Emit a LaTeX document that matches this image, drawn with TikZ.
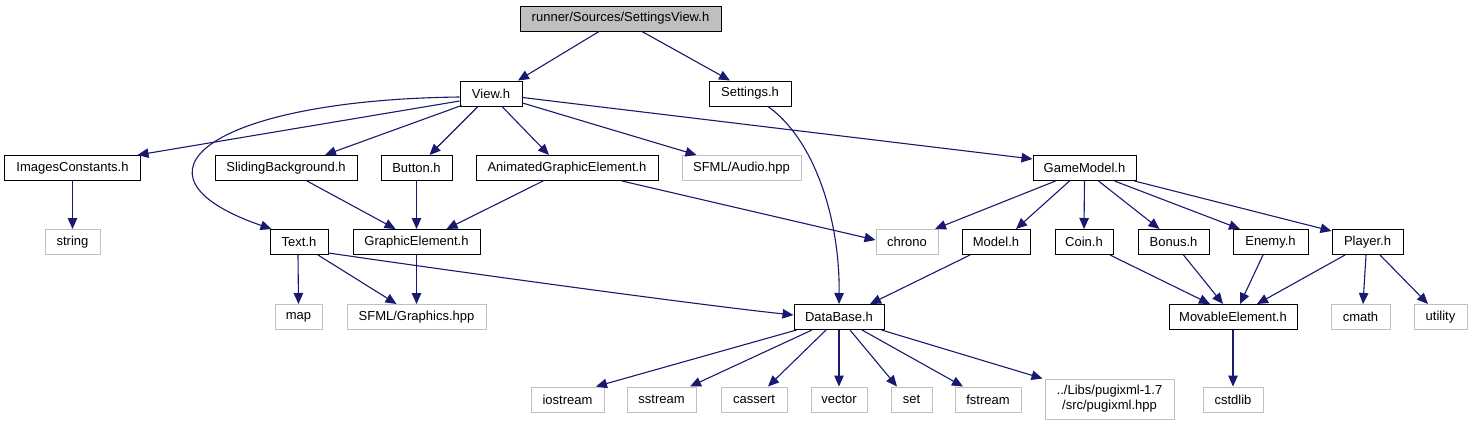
\documentclass[tikz,border=0pt]{standalone}
\usepackage{fontspec}
\setmainfont{Liberation Sans}
\usetikzlibrary{arrows.meta}
\definecolor{edgec}{HTML}{191970}
\definecolor{leafc}{HTML}{BFBFBF}
\begin{document}
\begin{tikzpicture}[x=1bp,y=-1bp,
  box/.style={draw=black, line width=1bp, inner sep=0pt, minimum height=25bp, font=\fontsize{13bp}{15bp}\selectfont},
  leaf/.style={box, draw=leafc},
  edge/.style={draw=edgec, line width=1.1bp, -{Triangle[length=11bp,width=9.5bp]}}]
\useasboundingbox (0,0) rectangle (1474,425);
\fill[white] (0,0) rectangle (1474,425);
% row 0
\node[box, minimum width=201bp, fill=leafc] (root) at (620.5,18.5) {runner/Sources/SettingsView.h};
% row 1
\node[box, minimum width=62bp] (view) at (491,93.5) {View.h};
\node[box, minimum width=82bp] (settings) at (750,93.5) {Settings.h};
% row 2
\node[box, minimum width=135bp] (images) at (72.5,168) {ImagesConstants.h};
\node[box, minimum width=142bp] (sliding) at (286,168) {SlidingBackground.h};
\node[box, minimum width=71bp] (button) at (416.5,168) {Button.h};
\node[box, minimum width=182bp] (anim) at (567,168) {AnimatedGraphicElement.h};
\node[leaf, minimum width=119bp] (audio) at (741.5,168) {SFML/Audio.hpp};
\node[box, minimum width=103bp] (gamemodel) at (1084.5,168) {GameModel.h};
% row 3
\node[leaf, minimum width=55bp] (string) at (72.5,242) {string};
\node[box, minimum width=58bp] (text) at (299,242) {Text.h};
\node[box, minimum width=127bp] (graphic) at (416.5,242) {GraphicElement.h};
\node[leaf, minimum width=62bp] (chrono) at (907,242) {chrono};
\node[box, minimum width=68bp] (model) at (996,242) {Model.h};
\node[box, minimum width=58bp] (coin) at (1084,242) {Coin.h};
\node[box, minimum width=71bp] (bonus) at (1173.5,242) {Bonus.h};
\node[box, minimum width=75bp] (enemy) at (1270.5,242) {Enemy.h};
\node[box, minimum width=71bp] (player) at (1367.5,242) {Player.h};
% row 4
\node[leaf, minimum width=47bp] (map) at (298.5,317) {map};
\node[leaf, minimum width=139bp] (sfmlg) at (416.5,317) {SFML/Graphics.hpp};
\node[box, minimum width=90bp] (database) at (839,317) {DataBase.h};
\node[box, minimum width=128bp] (movable) at (1233,317) {MovableElement.h};
\node[leaf, minimum width=59bp] (cmath) at (1360.5,317) {cmath};
\node[leaf, minimum width=53bp] (utility) at (1440.5,317) {utility};
% row 5
\node[leaf, minimum width=73bp] (iostream) at (567.5,399.5) {iostream};
\node[leaf, minimum width=69bp] (sstream) at (661.5,399.5) {sstream};
\node[leaf, minimum width=66bp] (cassert) at (754,399.5) {cassert};
\node[leaf, minimum width=56bp] (vector) at (839,399.5) {vector};
\node[leaf, minimum width=41bp] (set) at (911.5,399.5) {set};
\node[leaf, minimum width=66bp] (fstream) at (988,399.5) {fstream};
\node[leaf, minimum width=129bp, minimum height=40bp, align=center] (pugi) at (1109.5,399) {../Libs/pugixml-1.7\\/src/pugixml.hpp};
\node[leaf, minimum width=60bp] (cstdlib) at (1233,399.5) {cstdlib};
% edges
\draw[edge] ([shift={(-21.5,0)}]root.south) -- ([shift={(27,0)}]view.north);
\draw[edge] ([shift={(21.5,0)}]root.south) -- ([shift={(-20,0)}]settings.north);
\draw[edge] ([shift={(0,7.5)}]view.west) -- ([shift={(-3,0)}]images.north east);
\draw[edge] ([shift={(0,3.5)}]view.west) .. controls (210,100) and (115,175) .. ([shift={(2,0)}]text.north west);
\draw[edge] ([shift={(2,-1)}]view.south west) -- ([shift={(39,0)}]sliding.north);
\draw[edge] ([shift={(-13,0)}]view.south) -- ([shift={(13,0)}]button.north);
\draw[edge] ([shift={(11,0)}]view.south) -- ([shift={(-18,0)}]anim.north);
\draw[edge] ([shift={(0,9.5)}]view.east) -- ([shift={(-45,0)}]audio.north);
\draw[edge] ([shift={(0,4)}]view.east) -- ([shift={(0,-9)}]gamemodel.west);
\draw[edge] ([shift={(18,0)}]settings.south) .. controls (815,140) and (840,220) .. (database.north);
\draw[edge] (images.south) -- (string.north);
\draw[edge] ([shift={(21,0)}]sliding.south) -- ([shift={(-21,0)}]graphic.north);
\draw[edge] (button.south) -- (graphic.north);
\draw[edge] ([shift={(-24,0)}]anim.south) -- ([shift={(30,0)}]graphic.north);
\draw[edge] ([shift={(55,0)}]anim.south) -- ([shift={(0,-2)}]chrono.west);
\draw[edge] ([shift={(-29,0)}]gamemodel.south) -- ([shift={(28,0)}]chrono.north);
\draw[edge] ([shift={(-15,0)}]gamemodel.south) -- ([shift={(20,0)}]model.north);
\draw[edge] (gamemodel.south) -- (coin.north);
\draw[edge] ([shift={(14,0)}]gamemodel.south) -- ([shift={(-14,0)}]bonus.north);
\draw[edge] ([shift={(30,0)}]gamemodel.south) -- ([shift={(-30.5,0)}]enemy.north);
\draw[edge] ([shift={(50,0)}]gamemodel.south) -- ([shift={(0,2)}]player.north west);
\draw[edge] ([shift={(-1,0)}]text.south) -- (map.north);
\draw[edge] ([shift={(19,0)}]text.south) -- ([shift={(-20,0)}]sfmlg.north);
\draw[edge] ([shift={(0,-2)}]text.south east) .. controls (480,275) and (700,305) .. ([shift={(0,-2)}]database.west);
\draw[edge] (graphic.south) -- (sfmlg.north);
\draw[edge] ([shift={(-26,0)}]model.south) -- ([shift={(31,0)}]database.north);
\draw[edge] ([shift={(26,0)}]coin.south) -- ([shift={(-23,0)}]movable.north);
\draw[edge] ([shift={(10,0)}]bonus.south) -- ([shift={(-10,0)}]movable.north);
\draw[edge] ([shift={(-7.5,0)}]enemy.south) -- ([shift={(7,0)}]movable.north);
\draw[edge] ([shift={(-22.5,0)}]player.south) -- ([shift={(24,0)}]movable.north);
\draw[edge] ([shift={(-1.5,0)}]player.south) -- ([shift={(2.5,0)}]cmath.north);
\draw[edge] ([shift={(12.5,0)}]player.south) -- ([shift={(-12.5,0)}]utility.north);
\draw[edge] (movable.south) -- (cstdlib.north);
\draw[edge] ([shift={(3,0)}]database.south west) -- ([shift={(28.5,0)}]iostream.north);
\draw[edge] ([shift={(-27,0)}]database.south) -- ([shift={(28.5,0)}]sstream.north);
\draw[edge] ([shift={(-13,0)}]database.south) -- ([shift={(14,0)}]cassert.north);
\draw[edge] (database.south) -- (vector.north);
\draw[edge] ([shift={(11,0)}]database.south) -- ([shift={(-14.5,0)}]set.north);
\draw[edge] ([shift={(23,0)}]database.south) -- ([shift={(-25,0)}]fstream.north);
\draw[edge] ([shift={(-3,0)}]database.south east) -- ([shift={(-2,0)}]pugi.north west);
\end{tikzpicture}
\end{document}
